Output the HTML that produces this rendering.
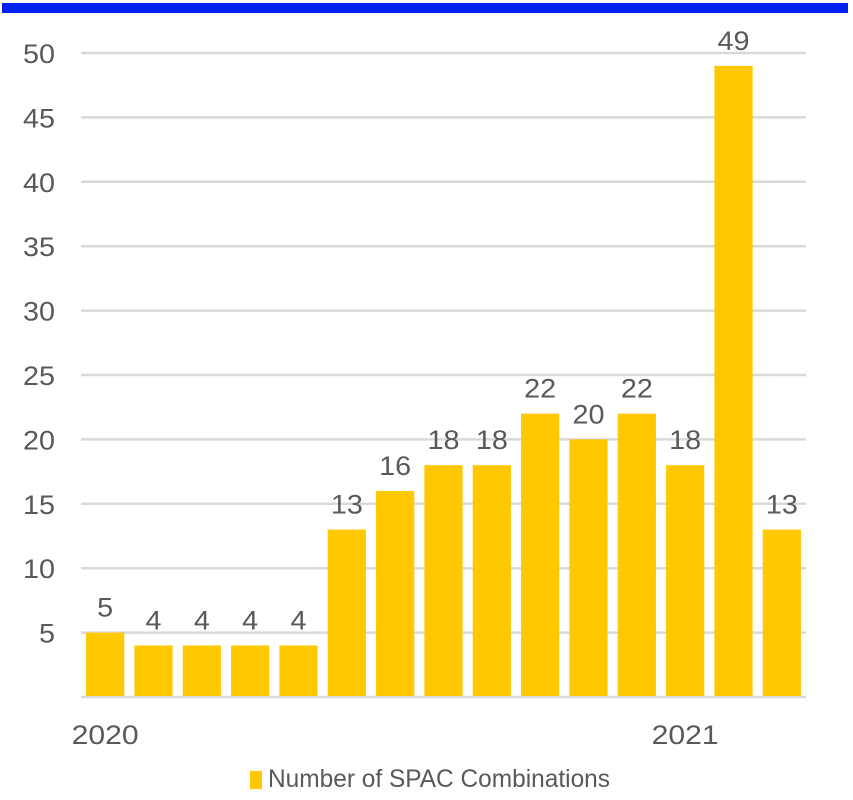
<!DOCTYPE html>
<html><head><meta charset="utf-8"><style>
body{margin:0;background:#fff;}
svg text{font-family:"Liberation Sans",Arial,sans-serif;fill:#595959;}
</style></head><body>
<svg id="chart" width="853" height="795" xmlns="http://www.w3.org/2000/svg">
<rect x="2" y="3" width="846" height="10" fill="#0022EE"/>
<g id="grid"></g><g id="bars"></g><g id="labels"></g>
<g>
<rect x="250" y="771" width="12" height="18" fill="#FFC800"/>
<text x="268" y="787" font-size="25" textLength="342" lengthAdjust="spacingAndGlyphs">Number of SPAC Combinations</text>
</g>
</svg>
<script>
const categories=["Jan 20","Feb 20","Mar 20","Apr 20","May 20","Jun 20","Jul 20","Aug 20","Sep 20","Oct 20","Nov 20","Dec 20","Jan 21","Feb 21","Mar 21"];
const values=[5,4,4,4,4,13,16,18,18,22,20,22,18,49,13];
const ticks=[5,10,15,20,25,30,35,40,45,50];
const yearLabels=["2020","2021"];
const yearIndex=[0,12];
const NS="http://www.w3.org/2000/svg";
const x0=81,x1=806,y0=697,pxPerUnit=12.88;
const n=values.length;
const band=(x1-x0)/n;
const xc=i=>x0+band*(i+0.5);
const y=v=>y0-v*pxPerUnit;
function mk(t,a,p){const e=document.createElementNS(NS,t);for(const k in a)e.setAttribute(k,a[k]);document.getElementById(p).appendChild(e);return e;}
ticks.forEach(t=>{
 const l=mk("line",{x1:x0,x2:x1,y1:y(t),y2:y(t),stroke:"#D9D9D9","stroke-width":2.5},"grid");
 
 
 const s=String(t);
 const tx=mk("text",{x:55,y:y(t)+10,"font-size":27,"text-anchor":"end",textLength:16*s.length,lengthAdjust:"spacingAndGlyphs"},"labels");
 tx.textContent=s;
 
 
});
const ax=mk("line",{x1:x0,x2:x1,y1:y0,y2:y0,stroke:"#D9D9D9","stroke-width":2.5},"grid");


const bw=band*0.79;
values.forEach((v,i)=>{
 const r=mk("rect",{x:xc(i)-bw/2,y:y(v),width:bw,height:y0-y(v)-1,fill:"#FFC800"},"bars");
 
 
 const s=String(v);
 const t=mk("text",{x:xc(i),y:y(v)-16,"font-size":27,"text-anchor":"middle",textLength:16*s.length,lengthAdjust:"spacingAndGlyphs"},"labels");
 t.textContent=s;
 
 
});
yearLabels.forEach((s,k)=>{
 const t=mk("text",{x:xc(yearIndex[k]),y:744,"font-size":27,"text-anchor":"middle",textLength:67,lengthAdjust:"spacingAndGlyphs"},"labels");
 t.textContent=s;
 
 
});
</script>
</body></html>
